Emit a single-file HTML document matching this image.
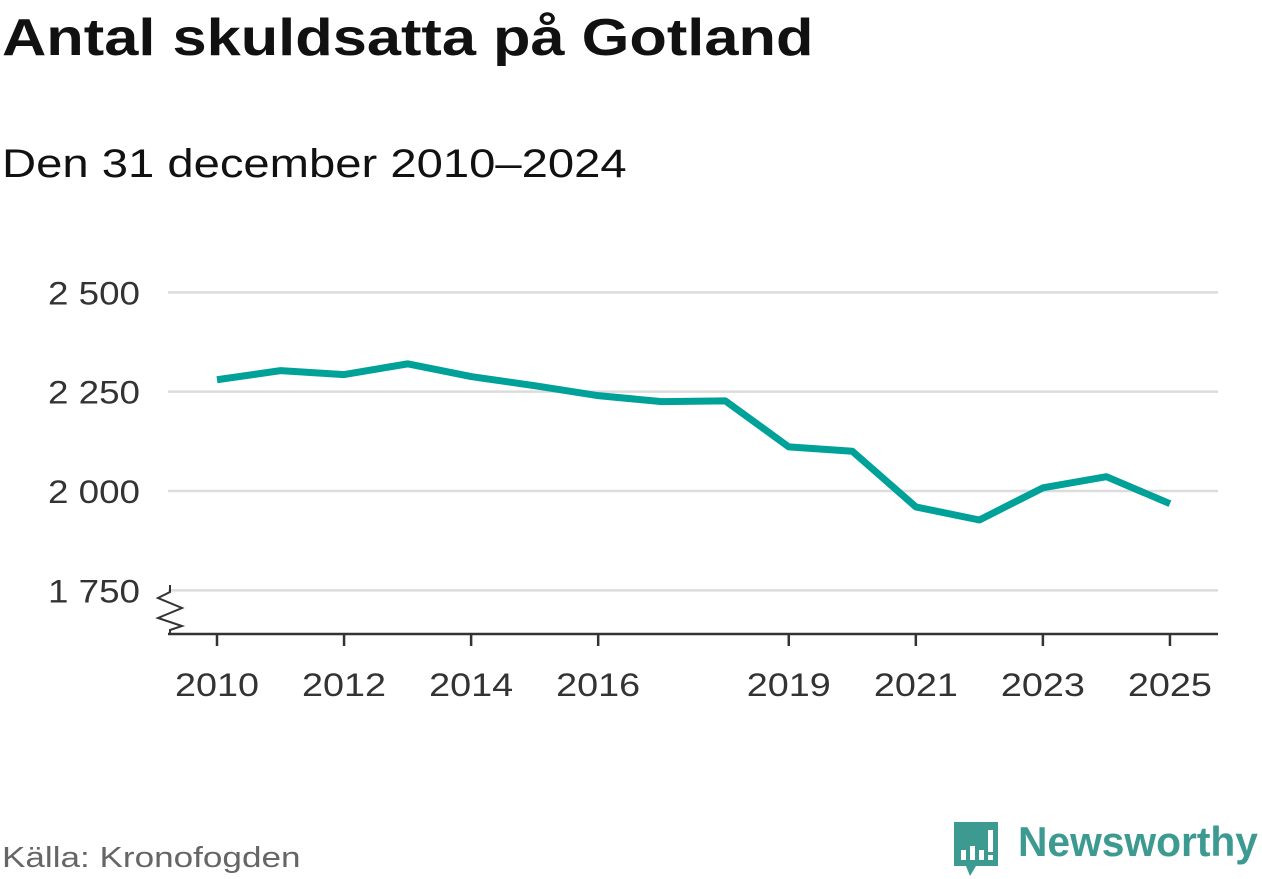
<!DOCTYPE html>
<html><head><meta charset="utf-8"><style>
body{margin:0;background:#fff;font-family:"Liberation Sans","DejaVu Sans",sans-serif;}
#w{position:relative;width:1262px;height:879px;overflow:hidden;}
.t{position:absolute;transform-origin:0 0;white-space:nowrap;}
</style></head><body>
<div id="w">
<div class="t" style="left:2px;top:8px;font-size:52px;font-weight:bold;color:#111;transform:scaleX(1.18);">Antal skuldsatta på Gotland</div>
<div class="t" style="left:2px;top:142px;font-size:40px;color:#111;transform:scaleX(1.18);">Den 31 december 2010–2024</div>
<svg id="c" width="1262" height="879" style="position:absolute;left:0;top:0"></svg>
<div class="t" style="left:2px;top:842px;font-size:29px;color:#666;transform:scaleX(1.21);">Källa: Kronofogden</div>
<div style="position:absolute;left:952px;top:820px;width:48px;height:58px;">
<svg width="48" height="58"><path d="M2 2h44v44H24l-6 10-4-10H2z" fill="#3c9a91"/><rect x="9" y="30" width="5" height="10" fill="#fff"/><rect x="18" y="26" width="5" height="14" fill="#fff"/><rect x="27" y="30" width="5" height="10" fill="#fff"/><rect x="36" y="10" width="5" height="22" fill="#fff"/><rect x="36" y="35" width="5" height="5" fill="#fff"/></svg></div>
<div class="t" style="left:1018px;top:818px;font-size:42px;font-weight:bold;color:#3c9a91;transform:scaleX(0.97);">Newsworthy</div>
</div>
<script>
const years=[2010,2011,2012,2013,2014,2015,2016,2017,2018,2019,2020,2021,2022,2023,2024,2025];
const values=[2280,2303,2293,2320,2288,2265,2240,2225,2227,2111,2100,1960,1927,2008,2036,1968];
const yTicks=[1750,2000,2250,2500];
const yTickLabels=["1 750","2 000","2 250","2 500"];
const xTicks=[2010,2012,2014,2016,2019,2021,2023,2025];
const svg=document.getElementById('c');const NS='http://www.w3.org/2000/svg';
const x=v=>217+(v-2010)*63.53;
const y=v=>491-(v-2000)*0.3973;
function mk(t,a){const e=document.createElementNS(NS,t);for(const k in a)e.setAttribute(k,a[k]);svg.appendChild(e);return e;}
yTicks.forEach((t,i)=>{
const g=mk('line',{x1:168,x2:1218,y1:y(t),y2:y(t),stroke:'#dcdcdc','stroke-width':2.5});


const l=mk('text',{x:140,y:y(t)+12,'text-anchor':'end','font-size':32,fill:'#333','font-family':'Liberation Sans, sans-serif',textLength:92,lengthAdjust:'spacingAndGlyphs'});
l.textContent=yTickLabels[i];


});
const ax=mk('line',{x1:168,x2:1218,y1:634,y2:634,stroke:'#333','stroke-width':2.5});


const br=mk('path',{d:'M170 585 L170 592 L158 598 L182 608 L158 618 L182 626 L170 630 L170 634',fill:'none',stroke:'#333','stroke-width':2});


xTicks.forEach(t=>{
const k=mk('line',{x1:x(t),x2:x(t),y1:634,y2:646,stroke:'#333','stroke-width':2.5});


const l=mk('text',{x:x(t)-42,y:696,'font-size':32,fill:'#333','font-family':'Liberation Sans, sans-serif',textLength:84,lengthAdjust:'spacingAndGlyphs'});
l.textContent=t;


});
const p=mk('polyline',{points:years.map((yr,i)=>x(yr)+','+y(values[i])).join(' '),fill:'none',stroke:'#00a199','stroke-width':7,'stroke-linejoin':'round'});


</script>
</body></html>
